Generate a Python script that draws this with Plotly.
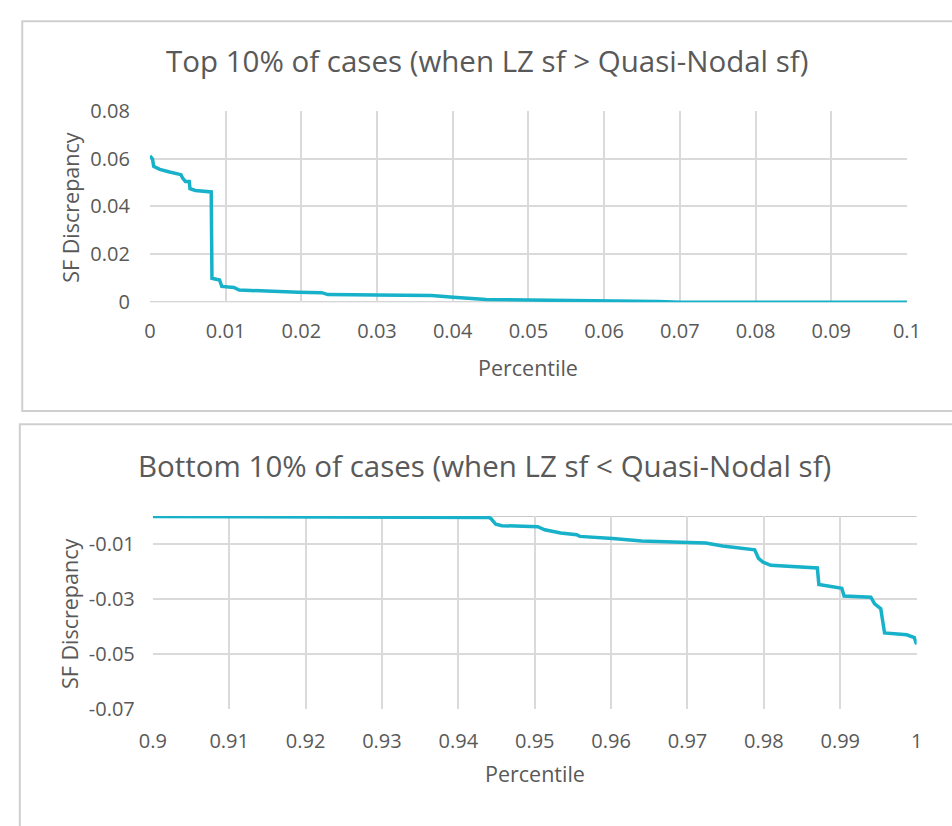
import plotly.graph_objects as go

W, H = 952, 826

# ---- data ----
top_pct = [0, 0.00035, 0.0005, 0.0013, 0.0026, 0.0041, 0.0043, 0.0047, 0.0052, 0.0053,
           0.0060, 0.0073, 0.0081, 0.0082, 0.0092, 0.0095, 0.0111, 0.0118, 0.0150, 0.0196,
           0.0227, 0.0235, 0.0299, 0.0372, 0.0401, 0.0436, 0.0444, 0.0500, 0.0564, 0.0628,
           0.0671, 0.0701, 0.1]
top_disc = [0.0611, 0.0598, 0.0568, 0.0555, 0.0544, 0.0533, 0.0520, 0.0504, 0.0504, 0.0474,
            0.0467, 0.0463, 0.0461, 0.0100, 0.0093, 0.0066, 0.0062, 0.0051, 0.0046, 0.0042,
            0.0040, 0.0032, 0.0030, 0.0028, 0.0021, 0.0016, 0.0012, 0.0009, 0.0008, 0.0007,
            0.0003, 0.0000, 0.0]

bot_pct = [0.9, 0.936, 0.9365, 0.944, 0.9443, 0.9449, 0.9457, 0.9504, 0.9513, 0.9526,
           0.9534, 0.9555, 0.9559, 0.9602, 0.9640, 0.9691, 0.9724, 0.9746, 0.9788, 0.9793,
           0.9799, 0.9809, 0.9848, 0.9870, 0.9872, 0.9889, 0.9902, 0.9905, 0.9940, 0.9945,
           0.9953, 0.9958, 0.9987, 0.9997, 1.0]
bot_disc = [-0.0002, -0.0002, -0.0004, -0.0005, -0.0010, -0.0030, -0.0035, -0.0039, -0.0050, -0.0056,
            -0.0062, -0.0068, -0.0074, -0.0082, -0.0091, -0.0095, -0.0098, -0.0109, -0.0123, -0.0154,
            -0.0168, -0.0179, -0.0186, -0.0189, -0.0249, -0.0256, -0.0263, -0.0291, -0.0295, -0.0319,
            -0.0337, -0.0425, -0.0432, -0.0442, -0.0467]

top_title = "Top 10% of cases (when LZ sf > Quasi-Nodal sf)"
bot_title = "Bottom 10% of cases (when LZ sf < Quasi-Nodal sf)"
y_title = "SF Discrepancy"
x_title = "Percentile"

top_yticks = [0, 0.02, 0.04, 0.06, 0.08]
top_xticks = [0, 0.01, 0.02, 0.03, 0.04, 0.05, 0.06, 0.07, 0.08, 0.09, 0.1]
bot_yticks = [-0.07, -0.05, -0.03, -0.01]
bot_ytext = ["-0.07", "-0.05", "-0.03", "-0.01"]
bot_xticks = [0.9, 0.91, 0.92, 0.93, 0.94, 0.95, 0.96, 0.97, 0.98, 0.99, 1]

# ---- style ----
LINE = "#17b1c9"
GRID = "#dadada"
TXT = "#595959"
FONT = "Open Sans"

def px_x(p):
    return p / W

def px_y(p):
    return 1 - p / H

fig = go.Figure()
fig.add_trace(go.Scatter(x=top_pct, y=top_disc, mode="lines",
                         line=dict(color=LINE, width=3.5), xaxis="x", yaxis="y",
                         showlegend=False, hoverinfo="skip"))
fig.add_trace(go.Scatter(x=bot_pct, y=bot_disc, mode="lines",
                         line=dict(color=LINE, width=3.5), xaxis="x2", yaxis="y2",
                         showlegend=False, hoverinfo="skip"))

tickfont = dict(family=FONT, size=20, color=TXT)
common = dict(showgrid=True, gridcolor=GRID, gridwidth=2, ticks="", tickfont=tickfont,
              zeroline=False, showline=False, fixedrange=True)

fig.update_layout(
    width=W, height=H,
    margin=dict(l=0, r=0, t=0, b=0),
    paper_bgcolor="white", plot_bgcolor="white",
    xaxis=dict(domain=[px_x(140), px_x(920)], range=[0, 0.1], tickvals=top_xticks,
               anchor="y", ticklabelstandoff=15, **common),
    yaxis=dict(domain=[px_y(298), px_y(100)], range=[0, 0.08], tickvals=top_yticks,
               anchor="x", ticklabelstandoff=19, **common),
    xaxis2=dict(domain=[px_x(143), px_x(930)], range=[0.9, 1.0], tickvals=bot_xticks,
                anchor="y2", ticklabelstandoff=18, **common),
    yaxis2=dict(domain=[px_y(718), px_y(519)], range=[-0.07, 0], tickvals=bot_yticks,
                ticktext=bot_ytext, anchor="x2", ticklabelstandoff=17, **common),
)

# axis lines (Excel category axis crosses at value 0)
fig.add_shape(type="line", xref="x domain", yref="y", x0=0, x1=1, y0=0, y1=0,
              line=dict(color="#c8c8c8", width=2), layer="below")
fig.add_shape(type="line", xref="x2 domain", yref="y2", x0=0, x1=1, y0=0, y1=0,
              line=dict(color="#c8c8c8", width=2), layer="below")

# chart borders
fig.add_shape(type="rect", xref="paper", yref="paper",
              x0=px_x(8.5), x1=1.02, y0=px_y(410.5), y1=px_y(7.5),
              line=dict(color="#cfcfcf", width=2))
fig.add_shape(type="rect", xref="paper", yref="paper",
              x0=px_x(6), x1=1.02, y0=-0.05, y1=px_y(424),
              line=dict(color="#cfcfcf", width=2))

def ann(text, x, y, size, angle=0):
    fig.add_annotation(text=text, xref="paper", yref="paper", x=px_x(x), y=px_y(y),
                       showarrow=False, textangle=angle, xanchor="center", yanchor="middle",
                       font=dict(family=FONT, size=size, color=TXT))

ann(top_title, 487, 48, 29.5)
ann(bot_title, 485, 467, 29.5)
ann(y_title, 58, 200, 21.5, -90)
ann(y_title, 57, 620, 21.5, -90)
ann(x_title, 530, 365, 21.5)
ann(x_title, 537, 785, 21.5)

fig.write_html(
    "out.html",
    config={"displayModeBar": False, "staticPlot": True},
    post_script="document.body.style.margin='0';document.body.style.overflow='hidden';"
)
